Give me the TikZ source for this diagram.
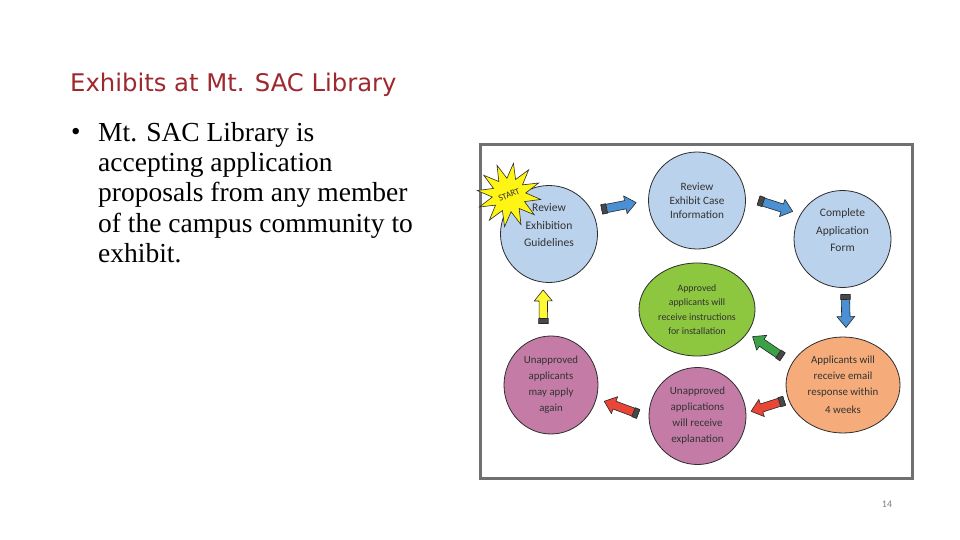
\documentclass[tikz,border=0pt]{standalone}
\usepackage{fontspec}
\setmainfont{Liberation Serif}
\newfontfamily\calibri{Carlito}
\newfontfamily\verdana{DejaVu Sans}
\usepackage{tikz}
\usetikzlibrary{calc}
\usetikzlibrary{shapes.geometric}
\usepackage{xcolor}

\definecolor{titlered}{RGB}{158,40,46}
\definecolor{framegray}{RGB}{112,112,112}
\definecolor{ringline}{RGB}{45,45,45}
\definecolor{stagetext}{RGB}{50,50,50}
\definecolor{bluefill}{RGB}{187,210,236}
\definecolor{greenfill}{RGB}{141,198,63}
\definecolor{orangefill}{RGB}{245,172,122}
\definecolor{purplefill}{RGB}{196,124,166}
\definecolor{arrowblue}{RGB}{74,144,210}
\definecolor{arrowgreen}{RGB}{60,160,70}
\definecolor{arrowred}{RGB}{232,70,55}
\definecolor{arrowyellow}{RGB}{255,250,50}
\definecolor{arrowline}{RGB}{40,40,40}
\definecolor{starfill}{RGB}{255,245,20}

% crayon-like block arrow: colour, tail, tip
\newcommand{\crayon}[3]{%
  \coordinate (ct) at (#2);
  \coordinate (cp) at (#3);
  \coordinate (ch) at ($(cp)!11pt!(ct)$);
  \coordinate (cb) at ($(ct)!5pt!(cp)$);
  \filldraw[fill=#1, draw=arrowline, line width=0.6pt, line join=round]
    ($(ct)!4.2pt!90:(cp)$) -- ($(ch)!4.2pt!90:(cp)$) -- ($(ch)!9pt!90:(cp)$)
    -- (cp) -- ($(ch)!9pt!-90:(cp)$) -- ($(ch)!4.2pt!-90:(cp)$)
    -- ($(ct)!4.2pt!-90:(cp)$) -- cycle;
  \filldraw[fill=arrowline!85, draw=arrowline, line width=0.6pt]
    ($(ct)!4.8pt!90:(cp)$) -- ($(cb)!4.8pt!90:(cp)$)
    -- ($(cb)!4.8pt!-90:(cp)$) -- ($(ct)!4.8pt!-90:(cp)$) -- cycle;
}

\tikzset{
  stage/.style={circle, draw=ringline, line width=0.8pt, minimum size=97pt,
    inner sep=0pt, align=center, text=stagetext,
    font=\calibri\fontsize{11}{16}\selectfont},
  oval/.style={stage, ellipse, minimum size=0pt},
}

\begin{document}
\begin{tikzpicture}[x=1pt,y=-1pt]
  \useasboundingbox[fill=white] (0,0) rectangle (960,540);

  \node[anchor=base west, inner sep=0pt, text=titlered,
    font=\verdana\fontsize{24.3}{28}\selectfont] (title) at (70,92)
    {Exhibits at Mt. SAC Library};

  \node[anchor=base west, inner sep=0pt, font=\fontsize{27}{30}\selectfont]
    (bullet) at (71,141) {\textbullet};
  \node[anchor=north west, inner sep=0pt, align=left,
    font=\fontsize{27.5}{30.3}\selectfont] (body) at (98,122)
    {Mt. SAC Library is\\accepting application\\proposals from any member\\
     of the campus community to\\exhibit.};

  % picture frame
  \draw[framegray, line width=3pt] (480.5,144.5) rectangle (912,478.5);

  % stages
  \node[stage, fill=bluefill, font=\calibri\fontsize{11.6}{17.5}\selectfont]
    (guide) at (549,234) {Review\\Exhibition\\Guidelines\\\mbox{}};
  \node[stage, fill=bluefill, font=\calibri\fontsize{11.2}{13.8}\selectfont]
    (info) at (697,200.5) {Review\\Exhibit Case\\Information};
  \node[stage, fill=bluefill, font=\calibri\fontsize{11.5}{17.5}\selectfont]
    (form) at (842.5,239) {Complete\\Application\\Form\\\mbox{}};
  \node[oval, fill=greenfill, minimum width=116pt, minimum height=93pt,
    font=\calibri\fontsize{9.8}{14.3}\selectfont]
    (install) at (697,309.5) {Approved\\applicants will\\receive instructions\\for installation};
  \node[oval, fill=orangefill, minimum width=114pt, minimum height=96pt,
    font=\calibri\fontsize{10.9}{16}\selectfont]
    (email) at (843,385) {Applicants will\\receive email\\response within\\[2pt]4 weeks};
  \node[stage, fill=purplefill] (explain) at (697.5,416)
    {Unapproved\\applications\\will receive\\explanation};
  \node[oval, fill=purplefill, minimum width=94pt, minimum height=98pt,
    font=\calibri\fontsize{10.8}{16}\selectfont]
    (again) at (551,385) {Unapproved\\applicants\\may apply\\again};

  % arrows between stages
  \crayon{arrowblue}{$(guide.center)!1.19!(guide.25)$}{$(info.center)!1.245!(info.182)$}
  \crayon{arrowblue}{$(info.center)!1.26!(info.0)$}{$(form.center)!1.165!(form.151)$}
  \crayon{arrowblue}{$(form.center)!1.136!(form.273)$}{$(email.center)!1.19!(email.87)$}
  \crayon{arrowgreen}{$(email.center)!1.205!(email.155)$}{$(install.center)!1.114!(install.334)$}
  \crayon{arrowred}{$(email.center)!1.076!(email.195)$}{$(explain.center)!1.10!(explain.5)$}
  \crayon{arrowred}{$(explain.center)!1.215!(explain.178)$}{$(again.center)!1.17!(again.343)$}
  \crayon{arrowyellow}{$(again.center)!1.255!(again.97.5)$}{$(guide.center)!1.15!(guide.264)$}

  % start burst
  \node[star, star points=12, star point ratio=1.9, minimum size=64pt,
    inner sep=0pt, fill=starfill, draw=ringline, line width=0.6pt, rotate=22,
    text=stagetext, font=\calibri\fontsize{9}{10}\selectfont] (start) at (509,195) {START};

  \node[text=gray, font=\calibri\fontsize{10}{12}\selectfont] (page) at (887,504) {14};
\end{tikzpicture}
\end{document}
